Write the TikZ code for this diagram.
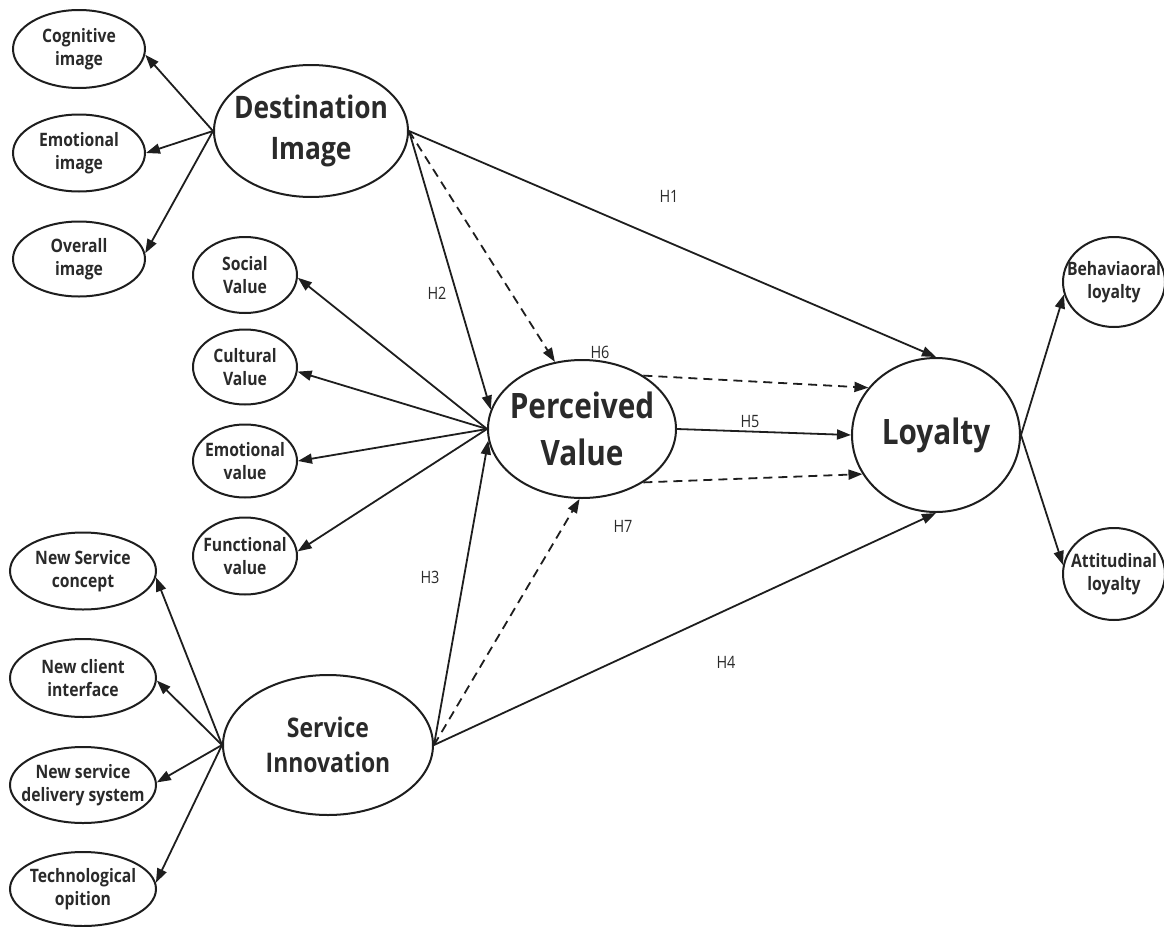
\documentclass[tikz,border=0pt]{standalone}
\usepackage{fontspec}
\setmainfont{Open Sans}[FakeStretch=0.85]
\usetikzlibrary{shapes.geometric,arrows.meta}
\definecolor{ink}{HTML}{1E1E1E}
\definecolor{txt}{HTML}{2A2A2A}
\begin{document}
\begin{tikzpicture}[x=1pt,y=-1pt,
  ell/.style args={#1/#2}{draw=ink,line width=2pt,ellipse,minimum width=#1pt,minimum height=#2pt,inner sep=0pt},
  small/.style={font=\bfseries\fontsize{18.5}{23.5}\selectfont,align=center,text=txt,inner sep=0pt},
  hyp/.style={font=\fontsize{17}{19}\selectfont,text=txt,inner sep=0pt},
  arr/.style={draw=ink,line width=1.8pt,-{Triangle[length=14pt,width=10pt]}},
  dsh/.style={arr,dash pattern=on 9pt off 6pt},
]
\useasboundingbox[fill=white] (0,0) rectangle (1164,926);

% latent constructs
\node[ell=194/132,label={[align=center,text=txt,inner sep=0pt,font=\bfseries\fontsize{31}{41}\selectfont]center:Destination\\Image}] (di) at (311,131) {};
\node[ell=188/138,label={[align=center,text=txt,inner sep=0pt,font=\bfseries\fontsize{35}{47}\selectfont]center:Perceived\\Value}] (pv) at (582,429) {};
\node[ell=168/154,label={[align=center,text=txt,inner sep=0pt,font=\bfseries\fontsize{35}{44}\selectfont]center:Loyalty}] (ly) at (936,435) {};
\node[ell=210/140,label={[align=center,text=txt,inner sep=0pt,font=\bfseries\fontsize{27}{35}\selectfont]center:Service\\Innovation}] (si) at (328,745) {};

% destination image indicators
\node[ell=132/78,label={[small]center:Cognitive\\image}] (cog) at (79,49) {};
\node[ell=132/77,label={[small]center:Emotional\\image}] (emi) at (79,153) {};
\node[ell=132/75,label={[small]center:Overall\\image}] (ovi) at (79,259) {};

% perceived value indicators
\node[ell=104/76,label={[small]center:Social\\Value}] (soc) at (245,275) {};
\node[ell=104/75,label={[small]center:Cultural\\Value}] (cul) at (245,367) {};
\node[ell=104/73,label={[small]center:Emotional\\value}] (emv) at (245,461) {};
\node[ell=104/77,label={[small]center:Functional\\value}] (fun) at (245,556) {};

% service innovation indicators
\node[ell=146/77,label={[small]center:New Service\\concept}] (nsc) at (83,571) {};
\node[ell=146/78,label={[small]center:New client\\interface}] (nci) at (83,678) {};
\node[ell=146/76,label={[small]center:New service\\delivery system}] (nsd) at (83,785) {};
\node[ell=146/74,label={[small]center:Technological\\opition}] (tec) at (83,889) {};

% loyalty indicators
\node[ell=102/90,label={[small]center:Behaviaoral\\loyalty}] (beh) at (1114,282) {};
\node[ell=102/92,label={[small]center:Attitudinal\\loyalty}] (att) at (1114,574) {};

% measurement arrows
\draw[arr] (di.west) -- (cog.-5);
\draw[arr] (di.west) -- (emi.east);
\draw[arr] (di.west) -- (ovi.5);

\draw[arr] (pv.west) -- (soc.-3);
\draw[arr] (pv.west) -- (cul.-5);
\draw[arr] (pv.west) -- (emv.east);
\draw[arr] (pv.west) -- (fun.5);

\draw[arr] (si.west) -- (nsc.-5);
\draw[arr] (si.west) -- (nci.-2);
\draw[arr] (si.west) -- (nsd.2);
\draw[arr] (si.west) -- (tec.5);

\draw[arr] (ly.east) -- (beh.194);
\draw[arr] (ly.east) -- (att.170);

% structural paths
\draw[arr] (di.east) -- (ly.north);
\draw[arr] (di.east) -- (pv.168);
\draw[dsh] (di.east) -- (pv.112);
\draw[arr] (si.east) -- (pv.187);
\draw[dsh] (si.east) -- (pv.268);
\draw[arr] (si.east) -- (ly.south);
\draw[arr] (pv.east) -- (ly.west);
\draw[dsh] (pv.41) -- (ly.145);
\draw[dsh] (pv.-41) -- (ly.208);

% hypothesis labels
\node[hyp] (h1) at (669,196) {H1};
\node[hyp] (h2) at (437,293) {H2};
\node[hyp] (h3) at (430,577) {H3};
\node[hyp] (h4) at (726,662) {H4};
\node[hyp] (h5) at (750,422) {H5};
\node[hyp] (h6) at (600,352) {H6};
\node[hyp] (h7) at (623,526) {H7};
\end{tikzpicture}
\end{document}
